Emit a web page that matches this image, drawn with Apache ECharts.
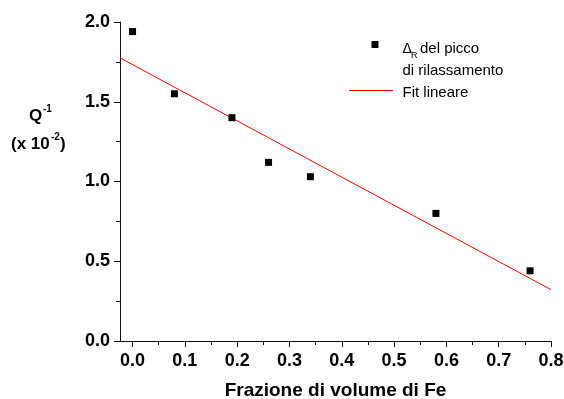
<!DOCTYPE html>
<html>
<head>
<meta charset="utf-8">
<style>
  html, body { margin: 0; padding: 0; background: #fff; }
  #chart { width: 564px; height: 399px; }
</style>
<script src="https://cdn.jsdelivr.net/npm/echarts@6/dist/echarts.min.js"></script>
</head>
<body>
<div id="chart"></div>
<script>
// Fe volume fraction vs. relaxation-peak damping
const fractionFe = [0.0, 0.08, 0.19, 0.26, 0.34, 0.58, 0.76];
const deltaR = [1.94, 1.55, 1.40, 1.12, 1.03, 0.80, 0.44];

// linear fit, drawn between its two end points
const fitX = [-0.024, 0.8];
const fitY = [1.775, 0.322];

const xMajorTicks = [0.0, 0.1, 0.2, 0.3, 0.4, 0.5, 0.6, 0.7, 0.8];
const xMinorTicks = [0.05, 0.15, 0.25, 0.35, 0.45, 0.55, 0.65, 0.75];

const legendPoints = 'del picco';
const legendPoints2 = 'di rilassamento';
const legendFit = 'Fit lineare';
const xName = 'Frazione di volume di Fe';

const baseFont = '"Liberation Sans", Arial, sans-serif';
const axisColor = '#111';

const chart = echarts.init(document.getElementById('chart'), null, { renderer: 'canvas' });

const scatterData = fractionFe.map((x, i) => [x, deltaR[i]]);
const fitData = fitX.map((x, i) => [x, fitY[i]]);

chart.setOption({
  animation: false,
  backgroundColor: '#ffffff',
  grid: { left: 120, right: 13, top: 22, bottom: 58, outerBoundsMode: 'none', containLabel: false },
  xAxis: [
    {
      type: 'value',
      min: -0.024,
      max: 0.8,
      name: xName,
      nameLocation: 'middle',
      nameGap: 40,
      nameTextStyle: { fontFamily: baseFont, fontWeight: 'bold', fontSize: 19, color: '#000' },
      axisLine: { show: true, onZero: false, lineStyle: { color: axisColor, width: 1 } },
      axisTick: { show: true, length: 6, customValues: xMajorTicks, lineStyle: { color: axisColor } },
      axisLabel: {
        customValues: xMajorTicks,
        margin: 11,
        fontFamily: baseFont, fontWeight: 'bold', fontSize: 18, color: '#000',
        formatter: v => v.toFixed(1)
      },
      splitLine: { show: false }
    },
    {
      type: 'value',
      min: -0.024,
      max: 0.8,
      position: 'bottom',
      axisLine: { show: false },
      axisTick: { show: true, length: 4, customValues: xMinorTicks, lineStyle: { color: axisColor } },
      axisLabel: { show: false },
      splitLine: { show: false }
    }
  ],
  yAxis: {
    type: 'value',
    min: 0,
    max: 2,
    interval: 0.5,
    axisLine: { show: true, onZero: false, lineStyle: { color: axisColor, width: 1 } },
    axisTick: { show: true, length: 6, lineStyle: { color: axisColor } },
    minorTick: { show: true, splitNumber: 2, length: 4, lineStyle: { color: axisColor } },
    axisLabel: {
      margin: 10,
      fontFamily: baseFont, fontWeight: 'bold', fontSize: 18, color: '#000',
      formatter: v => v.toFixed(1)
    },
    splitLine: { show: false },
    minorSplitLine: { show: false }
  },
  series: [
    {
      type: 'line',
      data: fitData,
      showSymbol: false,
      symbol: 'none',
      lineStyle: { color: '#ff0000', width: 1 },
      z: 2
    },
    {
      type: 'scatter',
      data: scatterData,
      symbol: 'rect',
      symbolSize: 7,
      itemStyle: { color: '#000', opacity: 1 },
      z: 3
    }
  ],
  graphic: [
    // y-axis title: Q^-1 (x 10^-2)
    { type: 'text', left: 29, top: 108, style: { text: 'Q', font: 'bold 17px ' + baseFont, fill: '#000' } },
    { type: 'text', left: 43, top: 104, style: { text: '-1', font: 'bold 10px ' + baseFont, fill: '#000' } },
    { type: 'text', left: 11, top: 136, style: { text: '(x 10', font: 'bold 17px ' + baseFont, fill: '#000' } },
    { type: 'text', left: 51, top: 132, style: { text: '-2', font: 'bold 10px ' + baseFont, fill: '#000' } },
    { type: 'text', left: 60, top: 136, style: { text: ')', font: 'bold 17px ' + baseFont, fill: '#000' } },

    // legend
    { type: 'rect', shape: { x: 371.5, y: 41, width: 7, height: 7 }, style: { fill: '#000' } },
    { type: 'text', left: 402.5, top: 42, style: { text: 'Δ', font: '14px ' + baseFont, fill: '#000' } },
    { type: 'text', left: 411, top: 51, style: { text: 'R', font: '9px ' + baseFont, fill: '#000' } },
    { type: 'text', left: 420, top: 41, style: { text: legendPoints, font: '15px ' + baseFont, fill: '#000' } },
    { type: 'text', left: 402.5, top: 63, style: { text: legendPoints2, font: '15px ' + baseFont, fill: '#000' } },
    { type: 'line', shape: { x1: 349, y1: 90.5, x2: 393, y2: 90.5 }, style: { stroke: '#ff0000', lineWidth: 1 } },
    { type: 'text', left: 402.5, top: 85.5, style: { text: legendFit, font: '15px ' + baseFont, fill: '#000' } }
  ]
});
</script>
</body>
</html>
